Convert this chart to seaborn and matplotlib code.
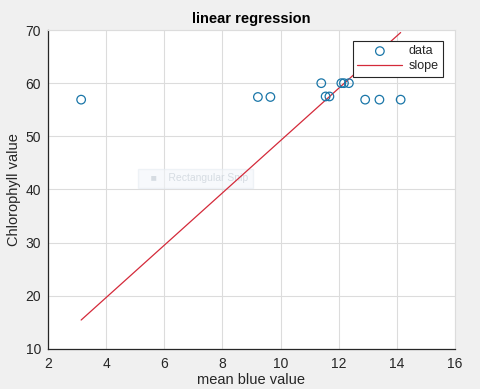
import numpy as np
import pandas as pd
import matplotlib
matplotlib.use("Agg")
import matplotlib.pyplot as plt
import seaborn as sns

# data
mean_blue = [3.14, 9.22, 9.65, 11.40, 11.55, 11.68, 12.09, 12.18, 12.35, 12.91, 13.40, 14.13]
chlorophyll = [56.9, 57.4, 57.4, 60.0, 57.5, 57.5, 60.0, 60.0, 60.0, 56.9, 56.9, 56.9]
slope_coef = 4.92  # fitted line through origin
x_ticks = [2, 4, 6, 8, 10, 12, 14, 16]
y_ticks = [10, 20, 30, 40, 50, 60, 70]

df = pd.DataFrame({"x": mean_blue, "y": chlorophyll})
line_x = [min(mean_blue), max(mean_blue)]
line_df = pd.DataFrame({"x": line_x, "y": [slope_coef * v for v in line_x]})

sns.set_theme(style="white")
plt.rcParams["font.family"] = ["Liberation Sans", "DejaVu Sans"]

fig = plt.figure(figsize=(4.81, 3.89), dpi=100, facecolor="#f0f0f0")
ax = fig.add_axes([48 / 481, 1 - 349 / 389, (455 - 48) / 481, (349 - 30) / 389])
ax.set_facecolor("white")

sns.scatterplot(data=df, x="x", y="y", ax=ax, marker="o", s=38,
                facecolors="none", edgecolor="#1a76a8", linewidth=0.9,
                label="data", zorder=3)
sns.lineplot(data=line_df, x="x", y="y", ax=ax, color="#d42a3a", linewidth=0.9,
             label="slope", zorder=2)

ax.set_xlim(2, 16)
ax.set_ylim(10, 70)
ax.set_xticks(x_ticks)
ax.set_yticks(y_ticks)
ax.grid(True, color="#dcdcdc", linewidth=0.8)
ax.tick_params(direction="in", length=3, width=0.8, colors="#262626",
               labelsize=10, labelcolor="#262626")
ax.tick_params(axis="x", pad=6)
ax.tick_params(axis="y", pad=5)
for s in ["left", "bottom"]:
    ax.spines[s].set_color("#262626")
    ax.spines[s].set_linewidth(0.9)
for s in ["top", "right"]:
    ax.spines[s].set_color("#dcdcdc")
    ax.spines[s].set_linewidth(0.8)

ax.set_xlabel("mean blue value", fontsize=10.5, color="#262626", labelpad=1)
ax.set_ylabel("Chlorophyll value", fontsize=10.5, color="#262626", labelpad=3)
ax.set_title("linear regression", fontsize=10.5, fontweight="bold", color="black", pad=5)

# faint screenshot overlay text visible in the reference
ax.text(0.232, 0.535, "   ■    Rectangular Snip", transform=ax.transAxes,
        fontsize=7.5, color="#c8d0d8", alpha=0.7, va="center", zorder=1,
        bbox=dict(boxstyle="square,pad=0.4", fc="#f2f6fa", ec="#e6ecf2", alpha=0.6))

leg = ax.legend(loc="upper right", bbox_to_anchor=((443 - 48) / 407, (349 - 41) / 319),
                borderaxespad=0, fontsize=9, frameon=True, fancybox=False,
                framealpha=1, edgecolor="#262626", handlelength=3.6, borderpad=0.35,
                labelspacing=0.25, handletextpad=0.5)
leg.get_frame().set_linewidth(0.8)
leg.set_zorder(10)

fig.savefig("out.png", dpi=100, facecolor=fig.get_facecolor())
